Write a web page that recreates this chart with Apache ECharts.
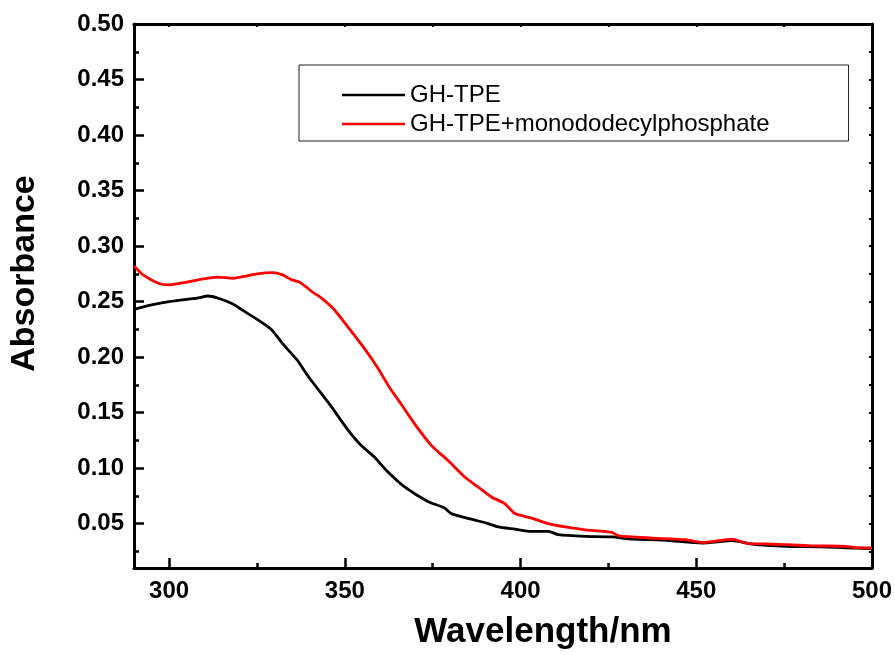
<!DOCTYPE html>
<html>
<head>
<meta charset="utf-8">
<script src="https://cdn.jsdelivr.net/npm/echarts@6/dist/echarts.min.js"></script>
<style>
  html, body { margin: 0; padding: 0; background: #fff; }
  #chart { width: 895px; height: 655px; }
</style>
</head>
<body>
<div id="chart"></div>
<script>
// === Data === //
const blackName = 'GH-TPE'
const redName = 'GH-TPE+monododecylphosphate'

const blackNm = [290, 295, 300, 305, 308, 311, 314, 318, 321, 325, 329, 332.6, 336.5, 339.7, 346, 348.9, 351.7, 354.6, 358.4, 362.2, 367, 373.6, 378.4, 380.3, 386, 390.8, 393.6, 398.4, 403.1, 407.9, 410.8, 418.4, 426, 432, 441.5, 451.7, 460.3, 465.8, 475.5, 485, 494.6, 500]
const blackAbs = [0.243, 0.247, 0.250, 0.252, 0.253, 0.255, 0.253, 0.248, 0.242, 0.234, 0.225, 0.211, 0.197, 0.182, 0.156, 0.143, 0.131, 0.1205, 0.110, 0.0966, 0.083, 0.070, 0.064, 0.059, 0.054, 0.050, 0.047, 0.045, 0.043, 0.043, 0.040, 0.0385, 0.038, 0.036, 0.035, 0.0325, 0.0346, 0.0316, 0.0295, 0.029, 0.028, 0.0274]

const redNm = [290, 292.6, 296.9, 300, 304, 309, 313.7, 318.3, 322, 325, 329.4, 332.3, 334.6, 337.4, 341, 343, 346.6, 349.7, 355.5, 359.3, 362.7, 366, 369.8, 374.6, 379.3, 384.1, 387.9, 391.7, 395.5, 398.4, 403.1, 407.9, 412.7, 418.4, 426, 427.9, 437.4, 446.9, 451.7, 460.3, 464.1, 470.8, 475.5, 483.1, 492.7, 494.6, 500]
const redAbs = [0.282, 0.274, 0.2665, 0.265, 0.267, 0.270, 0.272, 0.271, 0.273, 0.275, 0.276, 0.274, 0.270, 0.267, 0.258, 0.254, 0.244, 0.232, 0.208, 0.1905, 0.1726, 0.1577, 0.140, 0.1205, 0.107, 0.092, 0.083, 0.074, 0.068, 0.059, 0.055, 0.050, 0.047, 0.0444, 0.042, 0.039, 0.037, 0.0355, 0.033, 0.036, 0.0325, 0.0316, 0.031, 0.030, 0.0295, 0.0286, 0.028]

const xTicks = [300, 350, 400, 450, 500]
const xMinorTicks = [325, 375, 425, 475]
const yTicks = [0.05, 0.10, 0.15, 0.20, 0.25, 0.30, 0.35, 0.40, 0.45, 0.50]
const yMinorTicks = [0.025, 0.075, 0.125, 0.175, 0.225, 0.275, 0.325, 0.375, 0.425, 0.475]

// === Chart === //
const font = "'Liberation Sans', Arial, sans-serif"
const axisColor = '#000'

const zip = (xs, ys) => xs.map((x, i) => [x, ys[i]])

const xBase = { type: 'value', min: 290, max: 500, splitLine: { show: false } }
const yBase = { type: 'value', min: 0.01, max: 0.5, splitLine: { show: false } }

const myChart = echarts.init(document.getElementById('chart'))

myChart.setOption({
  animation: false,
  backgroundColor: '#fff',
  grid: { left: 134, right: 23, top: 24, bottom: 84 },
  legend: {
    orient: 'vertical',
    left: 299,
    top: 65,
    padding: [18, 79, 5, 43],
    borderColor: '#222',
    borderWidth: 1,
    borderRadius: 0,
    icon: 'rect',
    itemWidth: 63,
    itemHeight: 2.5,
    itemGap: 5,
    textStyle: { fontFamily: font, fontSize: 24, color: '#000', lineHeight: 24 },
    data: [blackName, redName]
  },
  xAxis: [
    {
      ...xBase,
      position: 'bottom',
      name: 'Wavelength/nm',
      nameLocation: 'middle',
      nameGap: 47,
      nameTextStyle: { fontFamily: font, fontSize: 35, fontWeight: 'bold', color: '#000', padding: [0, 0, 0, 80] },
      axisLine: { onZero: false, lineStyle: { color: axisColor, width: 3 } },
      axisTick: { inside: true, length: 10, customValues: xTicks, lineStyle: { color: axisColor, width: 2.5 } },
      axisLabel: { customValues: xTicks, margin: 11, fontFamily: font, fontSize: 24, fontWeight: 'bold', color: '#000' }
    },
    {
      ...xBase,
      position: 'bottom',
      axisLine: { show: false },
      axisTick: { inside: true, length: 5, customValues: xMinorTicks, lineStyle: { color: axisColor, width: 2.5 } },
      axisLabel: { show: false }
    },
    {
      ...xBase,
      position: 'top',
      axisLine: { onZero: false, lineStyle: { color: axisColor, width: 3 } },
      axisTick: { inside: true, length: 3, customValues: xTicks.concat(xMinorTicks), lineStyle: { color: axisColor, width: 2 } },
      axisLabel: { show: false }
    }
  ],
  yAxis: [
    {
      ...yBase,
      position: 'left',
      name: 'Absorbance',
      nameLocation: 'middle',
      nameGap: 92,
      nameTextStyle: { fontFamily: font, fontSize: 34, fontWeight: 'bold', color: '#000', padding: [0, 0, 0, 45] },
      axisLine: { onZero: false, lineStyle: { color: axisColor, width: 3 } },
      axisTick: { inside: true, length: 10, customValues: yTicks, lineStyle: { color: axisColor, width: 2.5 } },
      axisLabel: {
        customValues: yTicks,
        margin: 10,
        fontFamily: font,
        fontSize: 24,
        fontWeight: 'bold',
        color: '#000',
        formatter: v => v.toFixed(2)
      }
    },
    {
      ...yBase,
      position: 'left',
      axisLine: { show: false },
      axisTick: { inside: true, length: 5, customValues: yMinorTicks, lineStyle: { color: axisColor, width: 2.5 } },
      axisLabel: { show: false }
    },
    {
      ...yBase,
      position: 'right',
      axisLine: { onZero: false, lineStyle: { color: axisColor, width: 3 } },
      axisTick: { inside: true, length: 3, customValues: yTicks.concat(yMinorTicks), lineStyle: { color: axisColor, width: 2 } },
      axisLabel: { show: false }
    }
  ],
  series: [
    {
      name: blackName,
      type: 'line',
      xAxisIndex: 0,
      yAxisIndex: 0,
      showSymbol: false,
      symbol: 'none',
      smooth: 0.2,
      color: '#000',
      lineStyle: { color: '#000', width: 2.8 },
      data: zip(blackNm, blackAbs),
      z: 3
    },
    {
      name: redName,
      type: 'line',
      xAxisIndex: 0,
      yAxisIndex: 0,
      showSymbol: false,
      symbol: 'none',
      smooth: 0.2,
      color: '#ff0000',
      lineStyle: { color: '#ff0000', width: 2.8 },
      data: zip(redNm, redAbs),
      z: 4
    }
  ]
})
</script>
</body>
</html>
